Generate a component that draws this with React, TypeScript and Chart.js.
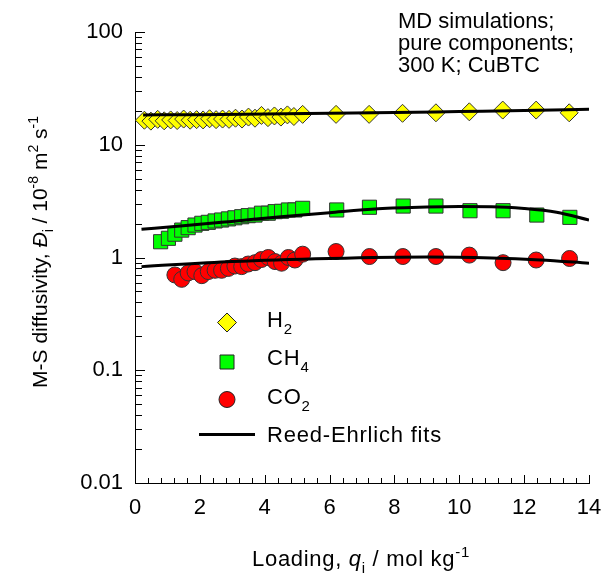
import React, { useEffect, useRef } from "react";
import { Chart, registerables } from "chart.js";

Chart.register(...registerables);

// Loading q (mol/kg) and M-S diffusivity (1e-8 m2/s) from MD simulations
const h2Q = [0.29, 0.49, 0.7, 0.9, 1.1, 1.3, 1.5, 1.7, 1.9, 2.1, 2.3, 2.5, 2.7, 2.9, 3.1, 3.3, 3.5, 3.7, 3.9, 4.1, 4.3, 4.5, 4.7, 4.9, 5.17, 6.2, 7.22, 8.25, 9.28, 10.31, 11.34, 12.37, 13.39];
const h2D = [16.5, 16.2, 16.8, 16.3, 16.6, 16.4, 16.9, 16.5, 16.7, 16.6, 17.0, 16.7, 16.9, 16.8, 17.2, 16.9, 17.6, 17.2, 18.2, 17.4, 18.0, 17.6, 18.4, 17.8, 18.6, 18.6, 18.6, 19.0, 19.2, 19.6, 20.3, 20.3, 19.2];

const ch4Q = [0.79, 1.03, 1.23, 1.44, 1.64, 1.85, 2.06, 2.26, 2.47, 2.67, 2.88, 3.08, 3.29, 3.49, 3.7, 3.9, 4.11, 4.32, 4.52, 4.73, 4.93, 5.17, 6.22, 7.23, 8.27, 9.28, 10.33, 11.35, 12.39, 13.41];
const ch4D = [1.38, 1.48, 1.61, 1.75, 1.84, 1.94, 2.01, 2.05, 2.11, 2.15, 2.2, 2.25, 2.3, 2.35, 2.38, 2.47, 2.47, 2.55, 2.57, 2.64, 2.64, 2.73, 2.64, 2.79, 2.86, 2.86, 2.6, 2.6, 2.38, 2.27];

const co2Q = [1.23, 1.44, 1.64, 1.85, 2.06, 2.26, 2.47, 2.67, 2.88, 3.08, 3.29, 3.49, 3.7, 3.9, 4.11, 4.32, 4.52, 4.73, 4.93, 5.17, 6.2, 7.23, 8.26, 9.28, 10.31, 11.35, 12.37, 13.4];
const co2D = [0.7, 0.64, 0.73, 0.75, 0.69, 0.75, 0.77, 0.77, 0.8, 0.84, 0.83, 0.875, 0.9, 0.96, 1.0, 0.92, 0.89, 1.0, 0.95, 1.07, 1.13, 1.02, 1.02, 1.02, 1.05, 0.9, 0.95, 0.98];

// Reed-Ehrlich fit curves
const h2FitQ = [0.25, 2, 4, 6, 8, 10, 12, 14];
const h2FitD = [18.4, 18.5, 18.7, 19.0, 19.3, 19.7, 20.1, 20.6];
const ch4FitQ = [0.2, 1.4, 2.9, 4.5, 6, 7.5, 9, 10, 11, 12, 13, 14];
const ch4FitD = [1.78, 1.9, 2.08, 2.3, 2.5, 2.7, 2.8, 2.83, 2.82, 2.72, 2.52, 2.15];
const co2FitQ = [0.2, 3, 6, 9, 11, 12.5, 14];
const co2FitD = [0.83, 0.92, 0.98, 1.01, 0.99, 0.95, 0.89];

const yDecades = [0.01, 0.1, 1, 10, 100];
const xMax = 14;

const FONT = '"Liberation Sans", Arial, Helvetica, sans-serif';
const FS = 22;

type Seg = { t: string; s?: "sub" | "sup"; i?: boolean };

function segFont(seg: Seg, size: number) {
  const sz = seg.s ? Math.round(size * 0.68) : size;
  return `${seg.i ? "italic " : ""}${sz}px ${FONT}`;
}

function drawRich(
  ctx: CanvasRenderingContext2D,
  segs: Seg[],
  x: number,
  y: number,
  size: number,
  align: "left" | "center",
  spacing = 0
) {
  (ctx as any).letterSpacing = `${spacing}px`;
  let total = 0;
  const widths = segs.map((s) => {
    ctx.font = segFont(s, size);
    const w = ctx.measureText(s.t).width;
    total += w;
    return w;
  });
  let cx = align === "center" ? x - total / 2 : x;
  ctx.textAlign = "left";
  ctx.textBaseline = "alphabetic";
  segs.forEach((s, k) => {
    ctx.font = segFont(s, size);
    const dy = s.s === "sub" ? size * 0.3 : s.s === "sup" ? -size * 0.42 : 0;
    ctx.fillText(s.t, cx, y + dy);
    cx += widths[k];
  });
  (ctx as any).letterSpacing = "0px";
}

const decorations = {
  id: "decorations",
  afterDraw(chart: any) {
    const ctx: CanvasRenderingContext2D = chart.ctx;
    const xs = chart.scales.x;
    const ys = chart.scales.y;
    const { left, bottom } = chart.chartArea;
    ctx.save();
    ctx.strokeStyle = "#000";
    ctx.lineWidth = 1;
    // inward ticks on the log axis
    ctx.beginPath();
    for (let d = 0; d < yDecades.length; d++) {
      const base = yDecades[d];
      const py = Math.round(ys.getPixelForValue(base)) + 0.5;
      ctx.moveTo(left, py);
      ctx.lineTo(left + 10, py);
      if (d < yDecades.length - 1) {
        for (let k = 2; k <= 9; k++) {
          const p = Math.round(ys.getPixelForValue(base * k)) + 0.5;
          ctx.moveTo(left, p);
          ctx.lineTo(left + 7, p);
        }
      }
    }
    // inward ticks on the loading axis
    for (let i = 0; i <= 35; i++) {
      const v = i * 0.4;
      const px = Math.round(xs.getPixelForValue(v)) + 0.5;
      const major = i % 5 === 0;
      ctx.moveTo(px, bottom);
      ctx.lineTo(px, bottom - (major ? 8 : 5));
    }
    ctx.stroke();

    ctx.fillStyle = "#000";
    // axis titles
    drawRich(ctx, [
      { t: "Loading, " },
      { t: "q", i: true },
      { t: "i", s: "sub" },
      { t: " / mol kg" },
      { t: "-1", s: "sup" },
    ], 361, 566, FS, "center", 0.7);

    ctx.save();
    ctx.translate(47, 252);
    ctx.rotate(-Math.PI / 2);
    drawRich(ctx, [
      { t: "M-S diffusivity, " },
      { t: "Đ", i: true },
      { t: "i", s: "sub" },
      { t: " / 10" },
      { t: "-8", s: "sup" },
      { t: " m" },
      { t: "2", s: "sup" },
      { t: " s" },
      { t: "-1", s: "sup" },
    ], 0, 0, 21, "center");
    ctx.restore();

    // annotation
    drawRich(ctx, [{ t: "MD simulations;" }], 398, 28, FS, "left");
    drawRich(ctx, [{ t: "pure components;" }], 398, 50, FS, "left");
    drawRich(ctx, [{ t: "300 K; CuBTC" }], 398, 72, FS, "left");

    // legend
    const mx = 227;
    ctx.strokeStyle = "#222";
    ctx.lineWidth = 1;
    // diamond
    ctx.fillStyle = "#FFFF00";
    ctx.beginPath();
    ctx.moveTo(mx, 322.5 - 9.5);
    ctx.lineTo(mx + 9.5, 322.5);
    ctx.lineTo(mx, 322.5 + 9.5);
    ctx.lineTo(mx - 9.5, 322.5);
    ctx.closePath();
    ctx.fill();
    ctx.stroke();
    // square
    ctx.fillStyle = "#00FF00";
    ctx.beginPath();
    ctx.rect(mx - 7, 362 - 7, 14, 14);
    ctx.fill();
    ctx.stroke();
    // circle
    ctx.fillStyle = "#FF0000";
    ctx.beginPath();
    ctx.arc(mx, 399.5, 8, 0, Math.PI * 2);
    ctx.fill();
    ctx.stroke();
    // line
    ctx.strokeStyle = "#000";
    ctx.lineWidth = 3;
    ctx.beginPath();
    ctx.moveTo(199, 434.5);
    ctx.lineTo(255, 434.5);
    ctx.stroke();

    ctx.fillStyle = "#000";
    drawRich(ctx, [{ t: "H" }, { t: "2", s: "sub" }], 267, 327, FS, "left", 0.8);
    drawRich(ctx, [{ t: "CH" }, { t: "4", s: "sub" }], 267, 365, FS, "left", 0.8);
    drawRich(ctx, [{ t: "CO" }, { t: "2", s: "sub" }], 267, 404, FS, "left", 0.8);
    drawRich(ctx, [{ t: "Reed-Ehrlich fits" }], 267, 442, FS, "left", 0.8);
    ctx.restore();
  },
};

function pts(q: number[], d: number[]) {
  return q.map((v, i) => ({ x: v, y: d[i] }));
}

export default function App() {
  const ref = useRef<HTMLCanvasElement | null>(null);

  useEffect(() => {
    if (!ref.current) return;
    const markerBorder = "#333";
    const fitLine = (q: number[], d: number[]) => ({
      type: "line" as const,
      data: pts(q, d),
      borderColor: "#000",
      borderWidth: 3,
      pointRadius: 0,
      showLine: true,
      fill: false,
      cubicInterpolationMode: "monotone" as const,
      order: 0,
    });
    const chart = new Chart(ref.current, {
      type: "scatter",
      data: {
        datasets: [
          {
            label: "H2",
            data: pts(h2Q, h2D),
            pointStyle: "rectRot",
            pointRadius: 9,
            backgroundColor: "#FFFF00",
            borderColor: markerBorder,
            borderWidth: 1,
            order: 1,
          },
          {
            label: "CH4",
            data: pts(ch4Q, ch4D),
            pointStyle: "rect",
            pointRadius: 10,
            backgroundColor: "#00FF00",
            borderColor: markerBorder,
            borderWidth: 1,
            order: 1,
          },
          {
            label: "CO2",
            data: pts(co2Q, co2D),
            pointStyle: "circle",
            pointRadius: 8,
            backgroundColor: "#FF0000",
            borderColor: markerBorder,
            borderWidth: 1,
            order: 1,
          },
          fitLine(h2FitQ, h2FitD),
          fitLine(ch4FitQ, ch4FitD),
          fitLine(co2FitQ, co2FitD),
        ] as any,
      },
      options: {
        animation: false,
        responsive: false,
        devicePixelRatio: 1,
        layout: { padding: { top: 32, right: 16, left: 0, bottom: 0 } },
        plugins: { legend: { display: false }, tooltip: { enabled: false } },
        scales: {
          x: {
            type: "linear",
            min: 0,
            max: xMax,
            grid: { display: false, drawTicks: false },
            border: { display: true, color: "#000", width: 1 },
            ticks: {
              stepSize: 2,
              padding: 12,
              color: "#000",
              font: { family: FONT, size: FS },
              maxRotation: 0,
            },
            afterFit: (s: any) => {
              s.height = 101;
              s.paddingLeft = 0;
              s.paddingRight = 0;
            },
          },
          y: {
            type: "logarithmic",
            min: 0.01,
            max: 100,
            grid: { display: false, drawTicks: false },
            border: { display: true, color: "#000", width: 1 },
            afterBuildTicks: (s: any) => {
              s.ticks = yDecades.map((v) => ({ value: v, major: true }));
            },
            ticks: {
              padding: 12,
              color: "#000",
              font: { family: FONT, size: FS },
              callback: (v: any) => String(v),
            },
            afterFit: (s: any) => {
              s.width = 135;
              s.paddingTop = 0;
              s.paddingBottom = 0;
            },
          },
        },
      },
      plugins: [decorations],
    } as any);
    return () => chart.destroy();
  }, []);

  return (
    <div style={{ position: "fixed", left: 0, top: 0, width: 605, height: 584, background: "#fff" }}>
      <canvas ref={ref} width={605} height={584} />
    </div>
  );
}
